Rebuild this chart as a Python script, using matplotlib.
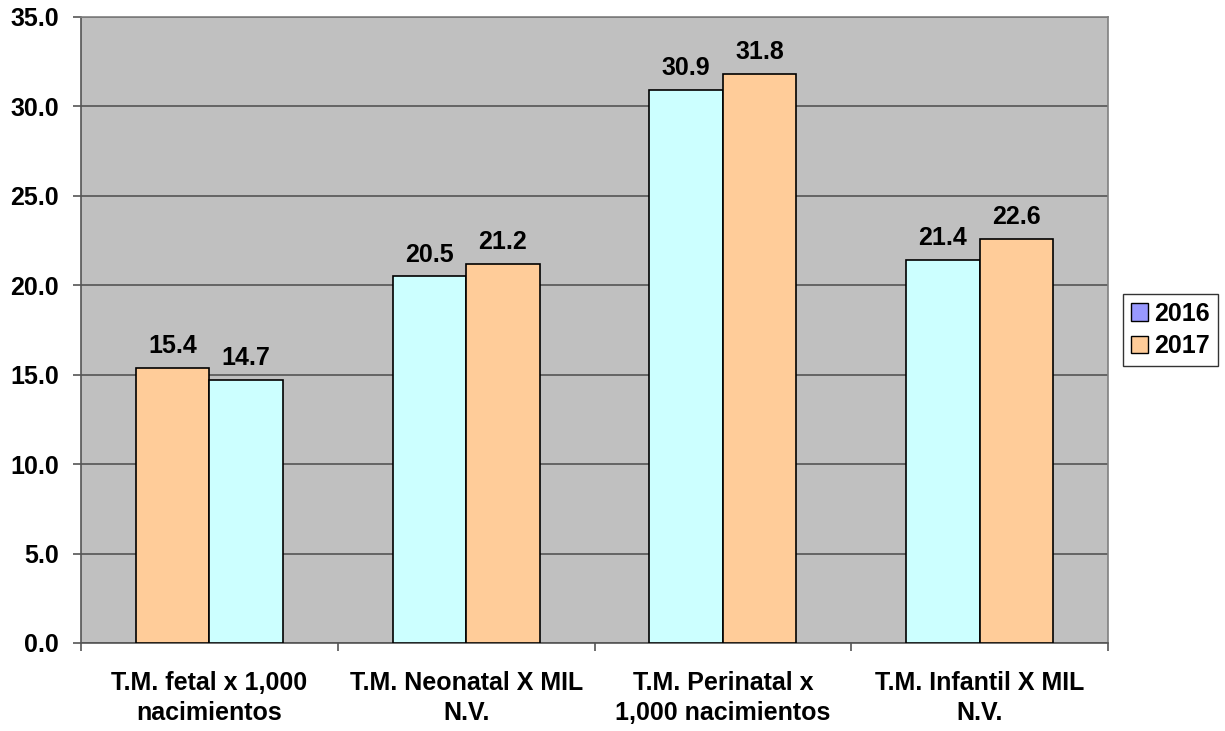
import matplotlib.pyplot as plt
import numpy as np
from matplotlib.patches import Patch

categorias = ["T.M. fetal x 1,000\nnacimientos", "T.M. Neonatal X MIL\nN.V.",
              "T.M. Perinatal x\n1,000 nacimientos", "T.M. Infantil X MIL\nN.V."]
tasas_2016 = [15.4, 20.5, 30.9, 21.4]
tasas_2017 = [14.7, 21.2, 31.8, 22.6]
colores_2016 = ["#FFCC99", "#CCFFFF", "#CCFFFF", "#CCFFFF"]
colores_2017 = ["#CCFFFF", "#FFCC99", "#FFCC99", "#FFCC99"]

plt.rcParams['font.family'] = ['Liberation Sans', 'DejaVu Sans']
plt.rcParams['font.weight'] = 'bold'

fig = plt.figure(figsize=(12.25, 7.31), dpi=100)
ax = fig.add_axes([81/1225, 1 - 643/731, 1027/1225, 626/731])
ax.set_facecolor("#C0C0C0")

x = np.arange(len(categorias))
ancho = 0.286
b1 = ax.bar(x - ancho/2, tasas_2016, ancho, color=colores_2016, edgecolor="black", linewidth=1.2, zorder=3)
b2 = ax.bar(x + ancho/2, tasas_2017, ancho, color=colores_2017, edgecolor="black", linewidth=1.2, zorder=3)

# etiquetas de valor sobre cada barra
for barras in (b1, b2):
    for b in barras:
        ax.text(b.get_x() + b.get_width()/2, b.get_height() + 0.55, f"{b.get_height():.1f}",
                ha="center", va="bottom", fontsize=18, fontweight="bold")

ax.set_xlim(-0.5, len(categorias) - 0.5)
ax.set_ylim(0, 35)
ax.set_yticks(np.arange(0, 35.1, 5))
ax.set_yticklabels([f"{v:.1f}" for v in np.arange(0, 35.1, 5)], fontsize=18, fontweight="bold")
ax.yaxis.grid(True, color="#555555", linewidth=1.2, zorder=0)

ax.set_xticks(x)
ax.set_xticklabels(categorias, fontsize=18, fontweight="bold", linespacing=1.35)
ax.tick_params(axis="x", length=0, pad=20)
ax.set_xticks(np.arange(-0.5, len(categorias)), minor=True)
ax.tick_params(axis="x", which="minor", length=6, color="#555555", width=1.2)
ax.tick_params(axis="y", length=6, color="#555555", width=1.2, pad=10)

for s in ax.spines.values():
    s.set_color("#808080")
    s.set_linewidth(1.2)
ax.spines["left"].set_color("#555555")
ax.spines["bottom"].set_color("#555555")

handles = [Patch(facecolor="#9999FF", edgecolor="black"), Patch(facecolor="#FFCC99", edgecolor="black")]
leg = fig.legend(handles, ["2016", "2017"], loc="center left", bbox_to_anchor=(1123/1225, 1 - 330/731),
                 prop={'size': 18, 'weight': 'bold'}, frameon=True, fancybox=False,
                 handlelength=0.7, handleheight=0.7, handletextpad=0.25, borderpad=0.3,
                 labelspacing=0.35, borderaxespad=0)
leg.get_frame().set_edgecolor("black")
leg.get_frame().set_linewidth(1.0)

fig.savefig("out.png", dpi=100)
